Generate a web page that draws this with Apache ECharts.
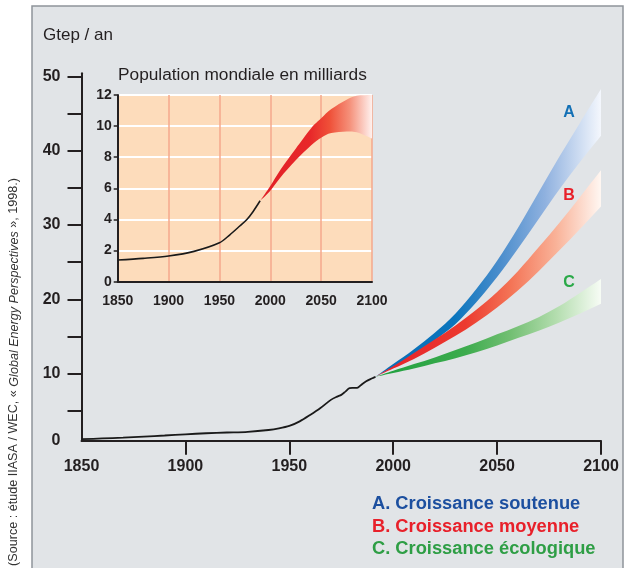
<!DOCTYPE html>
<html>
<head>
<meta charset="utf-8">
<script src="https://cdn.jsdelivr.net/npm/echarts@6/dist/echarts.min.js"></script>
<style>
html, body { margin: 0; padding: 0; background: #fff; }
#chart { width: 628px; height: 568px; }
</style>
</head>
<body>
<div id="chart"></div>
<script>
var FONT = '"Liberation Sans", Arial, Helvetica, sans-serif';
var INK = '#231f20';

// consommation mondiale d'energie, historique (Gtep / an)
var histYears  = [1850, 1860, 1870, 1880, 1890, 1900, 1910, 1920, 1930, 1940, 1945, 1950, 1955, 1960, 1965, 1970, 1973, 1975, 1977, 1979, 1981, 1983, 1985, 1987, 1990, 1991.5];
var histValues = [1.2, 1.3, 1.4, 1.55, 1.7, 1.86, 2.0, 2.1, 2.2, 2.44, 2.65, 2.98, 3.6, 4.46, 5.4, 6.49, 6.93, 7.16, 7.6, 8.06, 8.1, 8.15, 8.6, 9.0, 9.4, 9.6];

// scenarios (fourchette haute / basse)
var scenYears = [1991.5, 2000, 2010, 2020, 2030, 2040, 2050, 2060, 2070, 2080, 2090, 2100];
var aHigh = [9.6, 11.3, 13.3, 15.5, 18.1, 21.4, 25.2, 29.6, 34.4, 39.2, 43.8, 48.3];
var aLow  = [9.6, 10.9, 12.5, 14.5, 16.7, 19.6, 23.0, 26.8, 30.8, 34.8, 38.5, 42.0];
var bHigh = [9.6, 11.0, 12.8, 14.6, 16.5, 18.6, 21.0, 23.8, 27.0, 30.3, 33.8, 37.35];
var bLow  = [9.6, 10.7, 12.0, 13.5, 15.1, 16.9, 18.9, 21.2, 23.8, 26.6, 29.5, 32.5];
var cHigh = [9.6, 10.4, 11.3, 12.2, 13.2, 14.2, 15.3, 16.4, 17.6, 19.1, 20.9, 22.75];
var cLow  = [9.6, 10.1, 10.7, 11.4, 12.1, 12.9, 13.8, 14.8, 15.8, 16.9, 18.1, 19.4];

// population mondiale (milliards)
var popYears  = [1850, 1875, 1900, 1925, 1950, 1960, 1970, 1977, 1983, 1990];
var popValues = [1.39, 1.5, 1.65, 1.95, 2.5, 3.0, 3.58, 4.0, 4.5, 5.2];
var popBandYears = [1990, 2000, 2010, 2025, 2040, 2050, 2060, 2075, 2085, 2100];
var popHigh = [5.2, 6.15, 7.2, 8.55, 9.85, 10.5, 11.1, 11.7, 11.95, 12.0];
var popLow  = [5.2, 5.85, 6.7, 7.8, 8.75, 9.25, 9.55, 9.65, 9.6, 9.2];

// axes
var yBase = 1;                      // bas de l'axe, affiche "0"
var yLabels = [yBase, 10, 20, 30, 40, 50];
var yTicks = [5, 10, 15, 20, 25, 30, 35, 40, 45, 50];
var xTicks = [1900, 1950, 2000, 2050, 2100];

var scenarios = [
    { key: 'A', text: 'A. Croissance soutenue', color: '#1c4f9f', mark: '#1370b5', high: aHigh, low: aLow,
      stops: [[0, '#0a6db5'], [0.35, '#0a75bd'], [0.55, '#4a8dcc'], [0.75, '#8fb1df'], [1, '#f4f7fd']], y: 113 },
    { key: 'B', text: 'B. Croissance moyenne', color: '#e8202a', mark: '#e8202a', high: bHigh, low: bLow,
      stops: [[0, '#e5202a'], [0.4, '#ec3a2f'], [0.6, '#f47456'], [0.8, '#f9b298'], [1, '#fff7f2']], y: 196 },
    { key: 'C', text: 'C. Croissance écologique', color: '#2e9e45', mark: '#2aa948', high: cHigh, low: cLow,
      stops: [[0, '#1ea03f'], [0.4, '#3dac4e'], [0.6, '#73bf73'], [0.8, '#b3ddae'], [1, '#f7fcf5']], y: 283 }
];

function pairs(xs, ys) {
    return xs.map(function (x, i) { return [x, ys[i]]; });
}

function curve(p, move) {
    var d = move ? 'M' + p[0][0] + ' ' + p[0][1] : '';
    for (var i = 0; i < p.length - 1; i++) {
        var p0 = p[i - 1] || p[i], p1 = p[i], p2 = p[i + 1], p3 = p[i + 2] || p[i + 1];
        d += 'C' + (p1[0] + (p2[0] - p0[0]) / 6) + ' ' + (p1[1] + (p2[1] - p0[1]) / 6) + ' ' +
            (p2[0] - (p3[0] - p1[0]) / 6) + ' ' + (p2[1] - (p3[1] - p1[1]) / 6) + ' ' + p2[0] + ' ' + p2[1];
    }
    return d;
}

function bandSeries(years, low, high, stops, axis, z) {
    return {
        type: 'custom',
        xAxisIndex: axis,
        yAxisIndex: axis,
        z: z,
        silent: true,
        data: [[years[0], low[0]]],
        renderItem: function (params, api) {
            var up = years.map(function (y, i) { return api.coord([y, high[i]]); });
            var dn = years.map(function (y, i) { return api.coord([y, low[i]]); }).reverse();
            return {
                type: 'path',
                shape: { pathData: curve(up, true) + 'L' + dn[0][0] + ' ' + dn[0][1] + curve(dn, false) + 'Z' },
                style: { fill: new echarts.graphic.LinearGradient(0, 0, 1, 0, stops.map(function (s) {
                    return { offset: s[0], color: s[1] };
                })) }
            };
        }
    };
}

var series = [];
scenarios.forEach(function (s, i) {
    series.push(bandSeries(scenYears, s.low, s.high, s.stops, 0, 2 + i));
});
series.push({
    type: 'line', xAxisIndex: 0, yAxisIndex: 0, z: 6,
    data: pairs(histYears, histValues),
    smooth: 0.3, symbol: 'none', silent: true,
    lineStyle: { color: '#1a1a1a', width: 1.8 }
});
series.push(bandSeries(popBandYears, popLow, popHigh,
    [[0, '#e11f26'], [0.45, '#e8282a'], [0.62, '#ef5038'], [0.8, '#f5907a'], [1, '#fff1ee']], 1, 10));
series.push({
    type: 'line', xAxisIndex: 1, yAxisIndex: 1, z: 11,
    data: pairs(popYears, popValues),
    smooth: 0.3, symbol: 'none', silent: true,
    lineStyle: { color: '#1a1a1a', width: 1.6 }
});

var graphic = [
    { type: 'rect', z: -10, silent: true, shape: { x: 32, y: 6, width: 591, height: 600 },
      style: { fill: '#e1e4e7', stroke: '#8e949a', lineWidth: 1.5 } },
    { type: 'text', x: 43, y: 35, z: 20,
      style: { text: 'Gtep / an', fontFamily: FONT, fontSize: 17, fill: INK, verticalAlign: 'middle' } },
    { type: 'text', x: 118, y: 75, z: 20,
      style: { text: 'Population mondiale en milliards', fontFamily: FONT, fontSize: 17.3, fill: INK, verticalAlign: 'middle' } },
    { type: 'text', x: 14, y: 372, z: 20, rotation: Math.PI / 2,
      style: {
          text: '(Source : étude IIASA / WEC, « {i|Global Energy Perspectives} », 1998.)',
          fontFamily: FONT, fontSize: 12.6, fill: '#333', align: 'center', verticalAlign: 'middle',
          rich: { i: { fontFamily: FONT, fontSize: 12.6, fontStyle: 'italic', fill: '#333' } }
      } }
];
scenarios.forEach(function (s, i) {
    graphic.push({ type: 'text', x: 569, y: s.y, z: 20,
        style: { text: s.key, fontFamily: FONT, fontSize: 16, fontWeight: 'bold', fill: s.mark, align: 'center', verticalAlign: 'middle' } });
    graphic.push({ type: 'text', x: 372, y: 504 + i * 22.5, z: 20,
        style: { text: s.text, fontFamily: FONT, fontSize: 18.3, fontWeight: 'bold', fill: s.color, verticalAlign: 'middle' } });
});

var axisLine = { show: true, lineStyle: { color: INK, width: 2 } };
var plain = function (v) { return String(v); };
var boldLabel = { color: INK, fontFamily: FONT, fontWeight: 'bold' };

var option = {
    backgroundColor: '#fff',
    animation: false,
    grid: [
        { left: 81.5, top: 73.3, width: 519.5, height: 367.4 },
        { left: 117.7, top: 95, width: 254.3, height: 186.7, show: true, backgroundColor: '#fddcbb', borderWidth: 0, z: 8 }
    ],
    xAxis: [
        { type: 'value', gridIndex: 0, min: 1850, max: 2100, interval: 50,
          axisLine: axisLine,
          axisTick: { show: true, length: 14, customValues: xTicks, lineStyle: { color: INK, width: 2 } },
          axisLabel: Object.assign({ fontSize: 16, margin: 18, formatter: plain }, boldLabel),
          splitLine: { show: false } },
        { type: 'value', gridIndex: 1, min: 1850, max: 2100, interval: 50, z: 9,
          axisLine: axisLine,
          axisTick: { show: false },
          axisLabel: Object.assign({ fontSize: 14, margin: 12, formatter: plain }, boldLabel),
          splitLine: { show: true, lineStyle: { color: '#f5a88c', width: 1.5 } } }
    ],
    yAxis: [
        { type: 'value', gridIndex: 0, min: yBase, max: 50.4,
          axisLine: axisLine,
          axisTick: { show: true, length: 14, customValues: yTicks, lineStyle: { color: INK, width: 2 } },
          axisLabel: Object.assign({ fontSize: 16, margin: 21, customValues: yLabels,
              formatter: function (v) { return v === yBase ? '0' : String(v); } }, boldLabel),
          splitLine: { show: false } },
        { type: 'value', gridIndex: 1, min: 0, max: 12, interval: 2, z: 9,
          axisLine: axisLine,
          axisTick: { show: true, length: 4, lineStyle: { color: INK, width: 1.5 } },
          axisLabel: Object.assign({ fontSize: 14, margin: 6 }, boldLabel),
          splitLine: { show: true, lineStyle: { color: '#ffffff', width: 2 } } }
    ],
    graphic: graphic,
    series: series
};

var chart = echarts.init(document.getElementById('chart'), null, { renderer: 'canvas' });
chart.setOption(option);
</script>
</body>
</html>
